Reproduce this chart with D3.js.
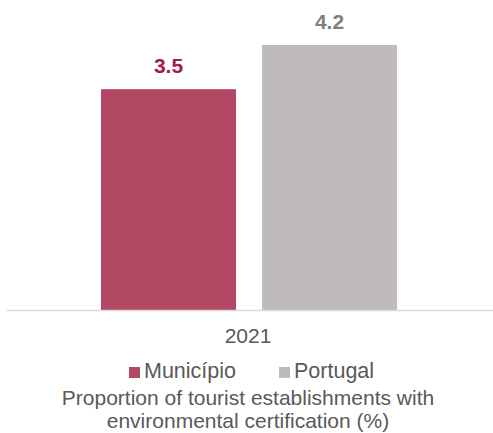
<!DOCTYPE html>
<html>
<head>
<meta charset="utf-8">
<script src="https://cdn.jsdelivr.net/npm/d3@7"></script>
<style>
  body { margin: 0; background: #fff; }
  svg { display: block; font-family: "Liberation Sans", Arial, sans-serif; }
</style>
</head>
<body>
<svg id="chart" width="493" height="433"></svg>
<script>
const categories = ['2021'];
const seriesNames = ['Município', 'Portugal'];
const seriesValues = [3.5, 4.2];
const seriesColors = ['#b24864', '#bfbbbb'];
const labelColors = ['#a51c45', '#808080'];
const titleLines = ['Proportion of tourist establishments with', 'environmental certification (%)'];

const svg = d3.select('#chart');
const baseY = 310;

// one category, two bars side by side
const x0 = d3.scaleBand().domain(categories).range([7, 493]);
const x1 = d3.scaleBand().domain(seriesNames).range([101, 397]).paddingInner(0.1615);

const yScale = d3.scaleLinear().domain([0, 4.2]).range([baseY, 45]);

const data = seriesNames.map((s, i) => ({ name: s, value: seriesValues[i], color: seriesColors[i], labelColor: labelColors[i] }));

svg.selectAll('rect.bar')
  .data(data)
  .join('rect')
  .attr('class', 'bar')
  .attr('x', d => x1(d.name))
  .attr('width', x1.bandwidth())
  .attr('y', d => yScale(d.value))
  .attr('height', d => baseY - yScale(d.value))
  .attr('fill', d => d.color);

svg.selectAll('text.val')
  .data(data)
  .join('text')
  .attr('class', 'val')
  .attr('x', d => x1(d.name) + x1.bandwidth() / 2)
  .attr('y', d => yScale(d.value) - 16)
  .attr('text-anchor', 'middle')
  .attr('font-size', 21)
  .attr('font-weight', 'bold')
  .attr('fill', d => d.labelColor)
  .text(d => d.value.toFixed(1));

// axis line
svg.append('line')
  .attr('x1', 7).attr('x2', 493)
  .attr('y1', baseY + 0.5).attr('y2', baseY + 0.5)
  .attr('stroke', '#d9d9d9')
  .attr('stroke-width', 1.5);

svg.selectAll('text.cat')
  .data(categories)
  .join('text')
  .attr('class', 'cat')
  .attr('x', d => x0(d) + x0.bandwidth() / 2 - 2)
  .attr('y', 343)
  .attr('text-anchor', 'middle')
  .attr('font-size', 21)
  .attr('fill', '#595959')
  .text(d => d);

// legend
const legendX = [129, 279];
const legend = svg.selectAll('g.leg')
  .data(data)
  .join('g')
  .attr('class', 'leg')
  .attr('transform', (d, i) => `translate(${legendX[i]},378)`);

legend.append('rect')
  .attr('x', 0).attr('y', -11)
  .attr('width', 11).attr('height', 11)
  .attr('fill', d => d.color);

legend.append('text')
  .attr('x', 15).attr('y', 0)
  .attr('font-size', 21.5)
  .attr('fill', '#595959')
  .text(d => d.name);

svg.selectAll('text.title')
  .data(titleLines)
  .join('text')
  .attr('class', 'title')
  .attr('x', 248)
  .attr('y', (d, i) => 405 + i * 23)
  .attr('text-anchor', 'middle')
  .attr('font-size', 21)
  .attr('fill', '#595959')
  .text(d => d);
</script>
</body>
</html>
